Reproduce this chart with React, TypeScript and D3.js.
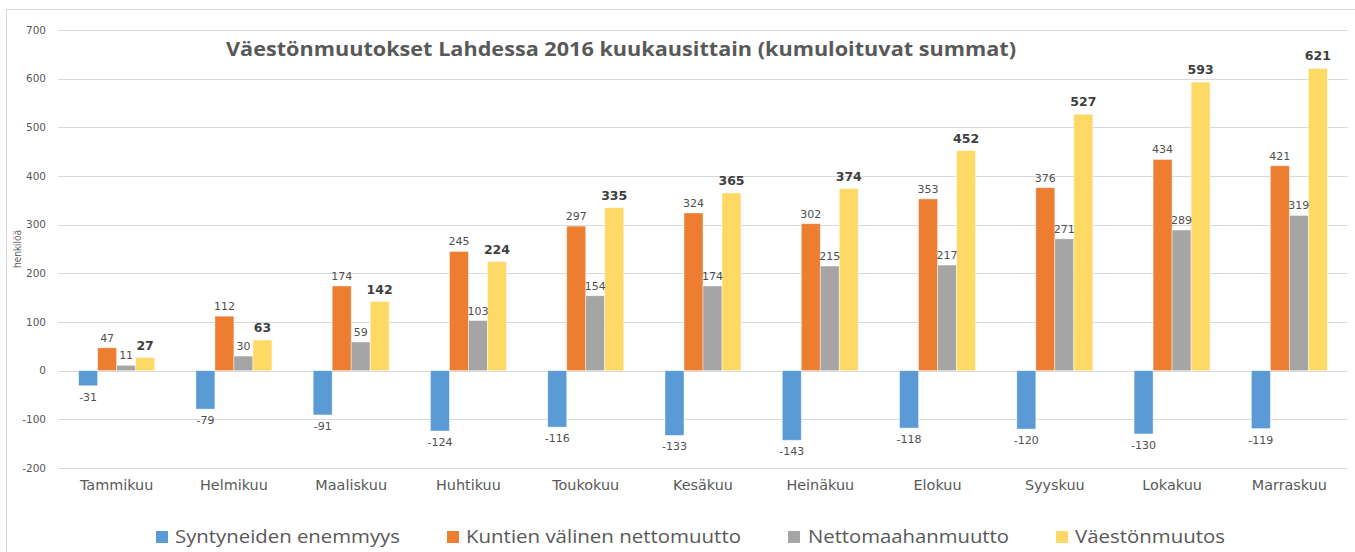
import React from "react";
import * as d3 from "d3";

const categories = ["Tammikuu","Helmikuu","Maaliskuu","Huhtikuu","Toukokuu","Kesäkuu","Heinäkuu","Elokuu","Syyskuu","Lokakuu","Marraskuu"];
const seriesNames = ["Syntyneiden enemmyys","Kuntien välinen nettomuutto","Nettomaahanmuutto","Väestönmuutos"];
const syntyneet = [-31,-79,-91,-124,-116,-133,-143,-118,-120,-130,-119];
const kuntien = [47,112,174,245,297,324,302,353,376,434,421];
const netto = [11,30,59,103,154,174,215,217,271,289,319];
const vaesto = [27,63,142,224,335,365,374,452,527,593,621];
const yTicks = [-200,-100,0,100,200,300,400,500,600,700];
const colors = ["#5B9BD5","#ED7D31","#A5A5A5","#FFD966"];
const title = "Väestönmuutokset Lahdessa 2016 kuukausittain (kumuloituvat summat)";

export default function App() {
  const W = 1355, H = 552;
  const values = [syntyneet, kuntien, netto, vaesto];
  const x = d3.scaleBand<string>().domain(categories).range([58, 1348]).paddingInner(0).paddingOuter(0);
  const bw = x.bandwidth();
  const gw = 76;
  const x1 = d3.scaleBand<string>().domain(seriesNames).range([(bw - gw) / 2, (bw + gw) / 2]);
  const y = d3.scaleLinear().domain([-200, 700]).range([468, 30]);
  const grey = "#595959";

  const legendItems = [
    { sq: 156, tx: 175, len: 225 },
    { sq: 447, tx: 466, len: 275 },
    { sq: 788, tx: 808, len: 201 },
    { sq: 1056, tx: 1075, len: 150 },
  ];

  return (
    <svg width={W} height={H} style={{ position: "absolute", left: 0, top: 0, background: "#fff" }}>
      <rect x={6.5} y={9.5} width={1360} height={560} fill="#fff" stroke="#D9D9D9" strokeWidth={1} />
      {yTicks.map((t) => (
        <g key={t}>
          <line x1={58} x2={1348} y1={Math.round(y(t)) + 0.5} y2={Math.round(y(t)) + 0.5} stroke="#D9D9D9" strokeWidth={1} />
          <text x={46} y={y(t) + 3.8} textAnchor="end" fontFamily="DejaVu Sans" fontSize={10.5} fill={grey}>{t}</text>
        </g>
      ))}
      <text transform="translate(21,249) rotate(-90)" textAnchor="middle" fontFamily="Open Sans" fontSize={11} fill={grey} textLength={38} lengthAdjust="spacingAndGlyphs">henkilöä</text>
      <text x={621} y={56} textAnchor="middle" fontFamily="Open Sans" fontWeight="bold" fontSize={19.5} fill={grey} textLength={790} lengthAdjust="spacingAndGlyphs">{title}</text>
      {categories.map((c, i) => (
        <g key={c} transform={`translate(${x(c)},0)`}>
          {seriesNames.map((s, si) => {
            const v = values[si][i];
            const y0 = y(0), yv = y(v);
            return (
              <rect key={s} x={x1(s)} width={x1.bandwidth()} y={Math.min(y0, yv)} height={Math.abs(yv - y0)} fill={colors[si]} stroke="#fff" strokeOpacity={0.55} strokeWidth={0.8} />
            );
          })}
          {seriesNames.map((s, si) => {
            const v = values[si][i];
            const cx = (x1(s) as number) + x1.bandwidth() / 2;
            if (si === 0) {
              return <text key={s} x={cx} y={y(v) + 15} textAnchor="middle" fontFamily="DejaVu Sans" fontSize={11} fill="#505050">{v}</text>;
            }
            if (si === 3) {
              return <text key={s} x={cx} y={y(v) - 8} textAnchor="middle" fontFamily="DejaVu Sans" fontWeight="bold" fontSize={12.5} fill="#404040">{v}</text>;
            }
            return <text key={s} x={cx} y={y(v) - 6} textAnchor="middle" fontFamily="DejaVu Sans" fontSize={11} fill="#505050">{v}</text>;
          })}
          <text x={bw / 2} y={490} textAnchor="middle" fontFamily="DejaVu Sans" fontSize={14.4} fill={grey}>{c}</text>
        </g>
      ))}
      {seriesNames.map((s, si) => (
        <g key={s}>
          <rect x={legendItems[si].sq} y={531} width={12} height={12} fill={colors[si]} />
          <text x={legendItems[si].tx} y={543} fontFamily="Open Sans" fontSize={18} fill={grey} textLength={legendItems[si].len} lengthAdjust="spacingAndGlyphs">{s}</text>
        </g>
      ))}
    </svg>
  );
}
